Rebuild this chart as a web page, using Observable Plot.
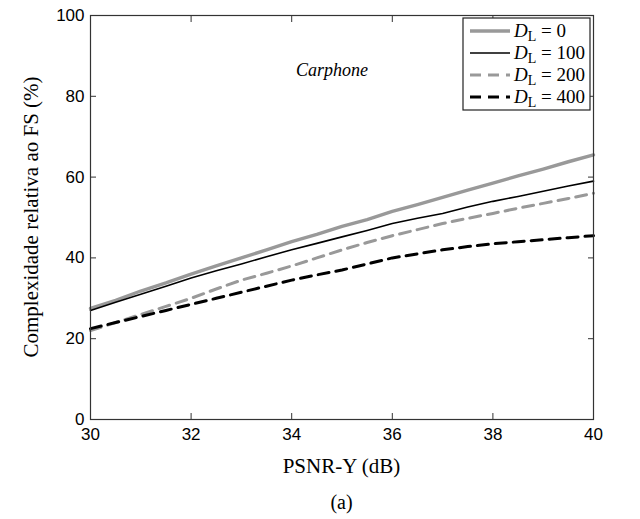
<!DOCTYPE html>
<html>
<head>
<meta charset="utf-8">
<script src="https://cdn.jsdelivr.net/npm/d3@7"></script>
<script src="https://cdn.jsdelivr.net/npm/@observablehq/plot@0.6"></script>
<style>
  body { margin: 0; background: #fff; }
  #cap { width: 503px; margin-left: 90px; text-align: center; font-family: "Liberation Serif", serif; font-size: 20px; color: #000; margin-top: 6px; }
</style>
</head>
<body>
<div id="chart"></div>
<div id="cap">(a)</div>
<script>
const psnr = [30,30.5,31,31.5,32,32.5,33,33.5,34,34.5,35,35.5,36,36.5,37,37.5,38,38.5,39,39.5,40];
const dl0   = [27.5,29.5,31.8,33.8,36,38,40,42,44,45.8,47.8,49.5,51.5,53.2,55,56.8,58.5,60.3,62,63.8,65.5];
const dl100 = [27,29,31,33,35,36.8,38.5,40.3,42,43.6,45.2,46.8,48.5,49.8,51,52.6,54,55.2,56.5,57.8,59];
const dl200 = [22,24,26,28,30,32.3,34.5,36.2,38,40,42,43.8,45.5,47,48.5,49.8,51,52.3,53.5,54.7,56];
const dl400 = [22.5,24,25.5,27,28.5,30,31.5,33,34.5,35.8,37,38.5,40,41,42,42.8,43.5,44,44.5,45,45.5];
const seriesNames = ["0","100","200","400"];
const seriesVals = [dl0, dl100, dl200, dl400];
const xTicks = [30,32,34,36,38,40];
const yTicks = [0,20,40,60,80,100];
const xLabel = "PSNR-Y (dB)";
const yLabel = "Complexidade relativa ao FS (%)";
const annotation = {x: 34.8, y: 86.5, text: "Carphone"};

const styles = {
  "0":   {stroke: "#999999", strokeWidth: 3.4, dash: null},
  "100": {stroke: "#000000", strokeWidth: 1.6, dash: null},
  "200": {stroke: "#999999", strokeWidth: 3, dash: "11,7"},
  "400": {stroke: "#000000", strokeWidth: 3, dash: "11,7"}
};

const data = [];
seriesNames.forEach((s, i) => psnr.forEach((p, j) => data.push({s, x: p, y: seriesVals[i][j]})));

const W = 640, H = 485, ML = 90, MR = 47, MT = 15, MB = 66;

const lineMarks = seriesNames.map(s => Plot.line(data.filter(d => d.s === s), {
  x: "x", y: "y", stroke: styles[s].stroke, strokeWidth: styles[s].strokeWidth,
  strokeDasharray: styles[s].dash, strokeLinejoin: "round"
}));

const plot = Plot.plot({
  width: W, height: H,
  marginLeft: ML, marginRight: MR, marginTop: MT, marginBottom: MB,
  style: {fontFamily: "'Liberation Sans', Arial, sans-serif", fontSize: "17px", color: "#000", background: "#fff"},
  x: {domain: [30, 40]},
  y: {domain: [0, 100]},
  marks: [
    ...lineMarks,
    Plot.frame({stroke: "#333", strokeWidth: 1.2}),
    Plot.axisX(xTicks, {anchor: "bottom", tickSize: -6, tickFormat: () => "", stroke: "#333", label: null}),
    Plot.axisX(xTicks, {anchor: "top", tickSize: -6, tickFormat: () => "", stroke: "#333", label: null}),
    Plot.axisY(yTicks, {anchor: "left", tickSize: -6, tickFormat: () => "", stroke: "#333", label: null}),
    Plot.axisY(yTicks, {anchor: "right", tickSize: -6, tickFormat: () => "", stroke: "#333", label: null}),
    Plot.axisX(xTicks, {anchor: "bottom", tickSize: 0, tickPadding: 8, fontSize: 17, label: null}),
    Plot.axisY(yTicks, {anchor: "left", tickSize: 0, tickPadding: 6, fontSize: 17, label: null}),
    Plot.text([annotation], {x: "x", y: "y", text: "text", fontFamily: "'Liberation Serif', serif",
      fontStyle: "italic", fontSize: 18, fill: "#000"})
  ]
});
document.getElementById("chart").appendChild(plot);

const svg = d3.select(plot);
const cx = ML + (W - ML - MR) / 2;
const cy = MT + (H - MT - MB) / 2;
svg.append("text").attr("x", cx).attr("y", 473).attr("text-anchor", "middle")
  .style("font-family", "'Liberation Serif', serif").style("font-size", "21px").attr("fill", "#000").text(xLabel);
svg.append("text").attr("transform", `translate(31,${cy}) rotate(-90)`).attr("text-anchor", "middle")
  .attr("dy", "0.35em")
  .style("font-family", "'Liberation Serif', serif").style("font-size", "21px").attr("fill", "#000").text(yLabel);

// Legend
const lg = svg.append("g").attr("class", "legend").attr("text-anchor", "start");
const lx = 463, ly = 18, lw = W - MR - 3 - lx, lh = 92;
lg.append("rect").attr("x", lx).attr("y", ly).attr("width", lw).attr("height", lh)
  .attr("fill", "#fff").attr("stroke", "#222").attr("stroke-width", 1.2);
seriesNames.forEach((s, i) => {
  const yy = ly + 13 + i * 22;
  lg.append("line").attr("x1", lx + 7).attr("x2", lx + 47).attr("y1", yy).attr("y2", yy)
    .attr("stroke", styles[s].stroke).attr("stroke-width", styles[s].strokeWidth)
    .attr("stroke-dasharray", styles[s].dash ? "11,7" : null);
  const t = lg.append("text").attr("x", lx + 51).attr("y", yy + 6).attr("text-anchor", "start")
    .style("font-family", "'Liberation Serif', serif").style("font-size", "19px").attr("fill", "#000");
  t.append("tspan").style("font-style", "italic").text("D");
  t.append("tspan").attr("dy", 4).style("font-size", "14px").text("L");
  t.append("tspan").attr("dy", -4).text(" = " + s);
});
</script>
</body>
</html>
